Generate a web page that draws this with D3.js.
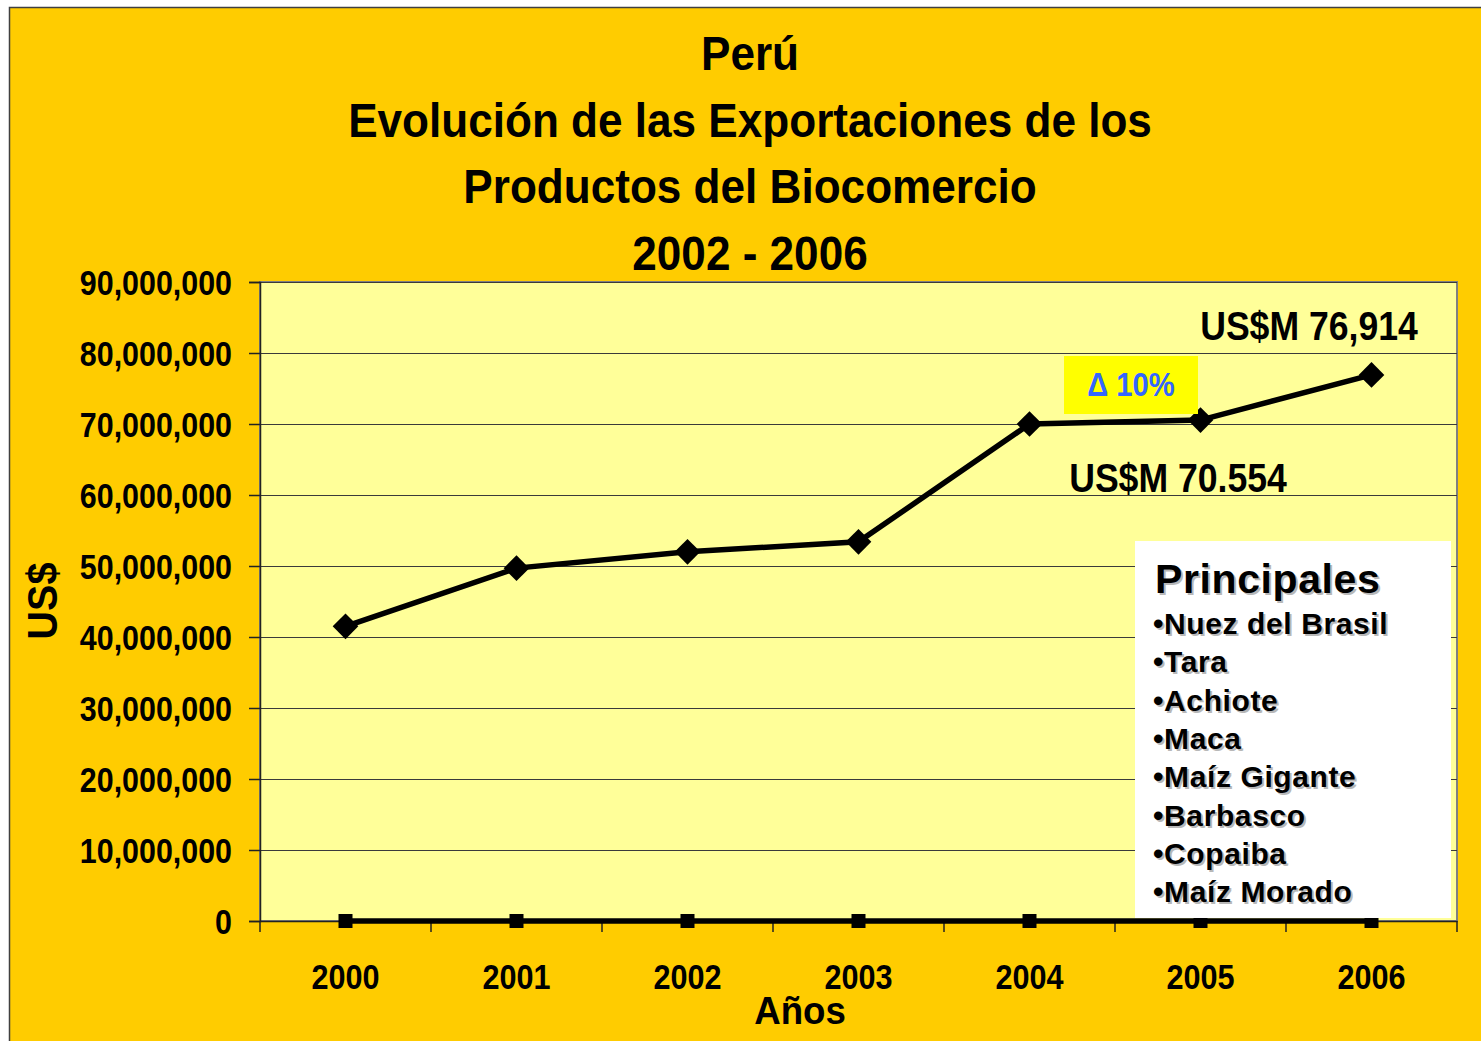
<!DOCTYPE html>
<html>
<head>
<meta charset="utf-8">
<script src="https://cdn.jsdelivr.net/npm/d3@7"></script>
<style>
  body { margin: 0; background: #fff; }
  svg text { font-family: "Liberation Sans", Arial, sans-serif; font-weight: bold; }
</style>
</head>
<body>
<div id="chart"></div>
<script>
// --- data ---
const years = ["2000", "2001", "2002", "2003", "2004", "2005", "2006"];
const exports = [41500000, 49700000, 52000000, 53400000, 70000000, 70554000, 76914000];
const zeroSeries = [0, 0, 0, 0, 0, 0, 0];
const yTicks = [0, 10000000, 20000000, 30000000, 40000000, 50000000, 60000000, 70000000, 80000000, 90000000];
const titleLines = ["Perú", "Evolución de las Exportaciones de los", "Productos del Biocomercio", "2002 - 2006"];
const valueLabels = ["US$M 76,914", "US$M 70.554"];
const changeLabel = "Δ 10%";
const productos = ["Nuez del Brasil", "Tara", "Achiote", "Maca", "Maíz Gigante", "Barbasco", "Copaiba", "Maíz Morado"];

const W = 1481, H = 1041;
const plot = { left: 260, right: 1457, top: 282, bottom: 921 };

const svg = d3.select("#chart").append("svg")
    .attr("width", W).attr("height", H);

// condensed text: no narrow font installed, so squeeze horizontally
function narrowText(parent, txt, xx, yy, size, k, anchor) {
    return parent.append("text")
        .attr("transform", `translate(${xx},${yy}) scale(${k},1)`)
        .attr("text-anchor", anchor || "middle")
        .attr("font-size", size)
        .text(txt);
}

// outer chart background
svg.append("rect")
    .attr("x", 9.5).attr("y", 7.5)
    .attr("width", W).attr("height", H)
    .attr("fill", "#FFCC00").attr("stroke", "#404040").attr("stroke-width", 1.5);

const x = d3.scaleBand().domain(years).range([plot.left, plot.right]);
const y = d3.scaleLinear().domain([0, 90000000]).range([plot.bottom, plot.top]);

// plot area
svg.append("rect")
    .attr("x", plot.left).attr("y", plot.top)
    .attr("width", plot.right - plot.left).attr("height", plot.bottom - plot.top)
    .attr("fill", "#FFFF99").attr("stroke", "#808080").attr("stroke-width", 2);

// gridlines
svg.append("g").selectAll("line")
    .data(yTicks.filter(d => d > 0)).enter().append("line")
    .attr("x1", plot.left).attr("x2", plot.right)
    .attr("y1", d => Math.round(y(d)) + 0.5).attr("y2", d => Math.round(y(d)) + 0.5)
    .attr("stroke", "#3a3a3a").attr("stroke-width", 1);

// y axis
const kY = 0.845;
const yAxis = svg.append("g")
    .attr("transform", `translate(${plot.left},0)`)
    .call(d3.axisLeft(y).tickValues(yTicks).tickSize(11)
        .tickFormat(d => d3.format(",")(d)));
yAxis.select(".domain").attr("stroke", "#222").attr("stroke-width", 1.5);
yAxis.selectAll(".tick line").attr("stroke", "#222").attr("stroke-width", 1.5);
yAxis.selectAll("text")
    .attr("font-size", 36).attr("fill", "#000").style("font-family", null)
    .attr("x", -28 / kY).attr("dy", "0.36em")
    .attr("transform", `scale(${kY},1)`);

// x axis: ticks at band boundaries
const xAxis = svg.append("g")
    .attr("transform", `translate(0,${plot.bottom})`)
    .call(d3.axisBottom(x).tickSize(0).tickPadding(42));
xAxis.select(".domain").attr("stroke", "#222").attr("stroke-width", 1.5);
xAxis.selectAll("text")
    .attr("font-size", 36).attr("fill", "#000").style("font-family", null)
    .attr("transform", "scale(0.85,1)");
xAxis.append("g").selectAll("line")
    .data(years.map(d => x(d)).concat([plot.right])).enter().append("line")
    .attr("x1", d => d).attr("x2", d => d)
    .attr("y1", 0).attr("y2", 11)
    .attr("stroke", "#222").attr("stroke-width", 1.5);

// zero series
const cx = d => x(d) + x.bandwidth() / 2;
const line = d3.line().x((d, i) => cx(years[i])).y(d => y(d));
svg.append("path").datum(zeroSeries)
    .attr("d", line).attr("fill", "none")
    .attr("stroke", "#000").attr("stroke-width", 5.5);
svg.append("g").selectAll("rect")
    .data(zeroSeries).enter().append("rect")
    .attr("x", (d, i) => cx(years[i]) - 7).attr("y", d => y(d) - 7)
    .attr("width", 14).attr("height", 14).attr("fill", "#000");

// main series
svg.append("path").datum(exports)
    .attr("d", line).attr("fill", "none")
    .attr("stroke", "#000").attr("stroke-width", 5.5);
svg.append("g").selectAll("path")
    .data(exports).enter().append("path")
    .attr("d", d3.symbol(d3.symbolDiamond2, 420))
    .attr("transform", (d, i) => `translate(${cx(years[i])},${y(d)})`)
    .attr("fill", "#000");

// title
titleLines.forEach((t, i) => narrowText(svg, t, 750, 70 + i * 66.5, 49, 0.9));

// axis titles
narrowText(svg, "Años", 800, 1024, 39, 0.94);
svg.append("text")
    .attr("transform", "translate(57,601) rotate(-90) scale(0.94,1)")
    .attr("text-anchor", "middle").attr("font-size", 42)
    .text("US$");

// annotations
narrowText(svg, valueLabels[0], 1309, 340, 40, 0.89);
narrowText(svg, valueLabels[1], 1178, 492, 40, 0.89);

svg.append("rect")
    .attr("x", 1064).attr("y", 356).attr("width", 134).attr("height", 58)
    .attr("fill", "#FFFF00");
narrowText(svg, changeLabel, 1131, 396, 34, 0.86).attr("fill", "#3366FF");

// products box
const box = svg.append("g");
box.append("rect")
    .attr("x", 1135).attr("y", 541).attr("width", 316).attr("height", 377)
    .attr("fill", "#fff");
const shadowed = (sel, txt, xx, yy, fs) => {
    [["#b8b8b8", 2], ["#000", 0]].forEach(([c, o]) => {
        sel.append("text")
            .attr("x", xx + o).attr("y", yy + o)
            .attr("font-size", fs).attr("fill", c)
            .attr("letter-spacing", 0.6)
            .text(txt);
    });
};
shadowed(box, "Principales", 1155, 593, 41);
productos.forEach((p, i) => shadowed(box, "•" + p, 1153, 634 + i * 38.3, 30));
</script>
</body>
</html>
